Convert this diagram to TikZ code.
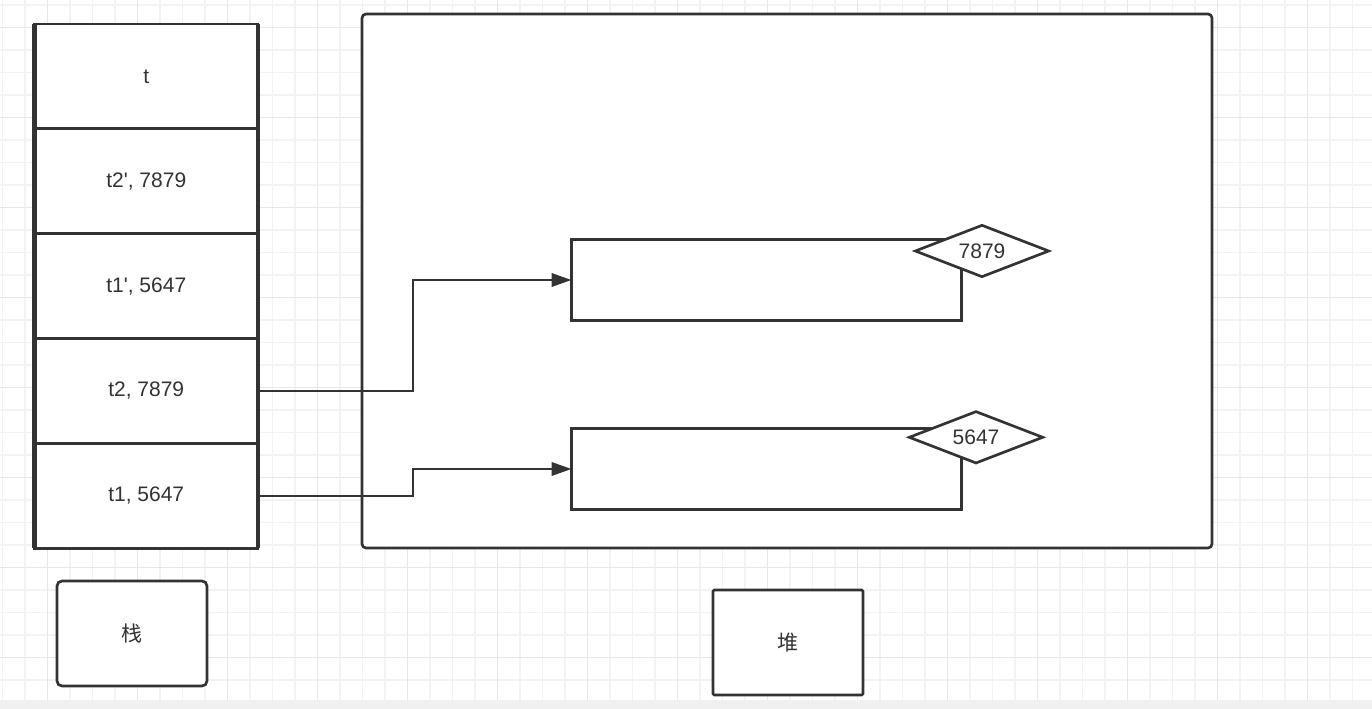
\documentclass[tikz,border=0pt]{standalone}
\usepackage{fontspec}
\setmainfont{Liberation Sans}
\newfontfamily\cjk{Noto Sans CJK SC}
\usetikzlibrary{shapes.geometric,arrows.meta}
\definecolor{ink}{HTML}{333333}
\definecolor{gridminor}{HTML}{F3F3F3}
\definecolor{gridmajor}{HTML}{E8E8E8}
\definecolor{band}{HTML}{F0F0F0}
\begin{document}
\begin{tikzpicture}[x=0.75pt,y=-0.75pt,
  every node/.style={font=\fontsize{15.75pt}{18pt}\selectfont, text=ink},
  base/.style={draw=ink, line width=2pt, fill=white, inner sep=0pt, outer sep=0pt},
  cell/.style={base, rectangle, minimum width=167.6pt, minimum height=78.64pt},
  objbox/.style={base, rectangle, minimum width=292.5pt, minimum height=60.75pt},
  tag/.style={base, diamond, aspect=3, minimum width=100pt, minimum height=38.5pt},
  labelbox/.style={base, rectangle, minimum width=112.5pt, minimum height=78.75pt},
  link/.style={draw=ink, line width=2pt, -{Triangle[length=15pt,width=10pt]}},
  gridfine/.style={draw=gridminor, line width=1pt},
  gridbold/.style={draw=gridmajor, line width=1.2pt}
]
\useasboundingbox (0,0) rectangle (1372,709);
\fill[white] (0,0) rectangle (1372,709);
% grid
\foreach \x in {2.5,25,...,1372} \draw[gridfine] (\x,0) -- (\x,700);
\foreach \y in {5,27.5,...,700} \draw[gridfine] (0,\y) -- (1372,\y);
\foreach \x in {47.5,137.5,...,1372} \draw[gridbold] (\x,0) -- (\x,700);
\foreach \y in {27.5,117.5,...,700} \draw[gridbold] (0,\y) -- (1372,\y);
\fill[band] (0,700) rectangle (1372,709);

% heap container
\node[base, rounded corners=3pt, minimum width=637.5pt, minimum height=400.5pt] (heap) at (787,281) {};

% stack cells
\node[cell] (s1) at (146.25,76.4) {t};
\node[cell] (s2) at (146.25,181.3) {t2\textquotesingle, 7879};
\node[cell] (s3) at (146.25,286.2) {t1\textquotesingle, 5647};
\node[cell] (s4) at (146.25,391.0) {t2, 7879};
\node[cell] (s5) at (146.25,495.9) {t1, 5647};
\draw[ink, line width=3.4pt] (s1.north west) -- (s5.south west);
\draw[ink, line width=3.6pt] (s1.north east) -- (s5.south east);
\draw[ink, line width=2.6pt] (s5.north west) -- (s5.north east);

% heap objects
\node[objbox] (b1) at (766.5,280) {};
\node[tag] (d1) at (982,251) {7879};
\node[objbox] (b2) at (766.5,469) {};
\node[tag] (d2) at (976,437.3) {5647};

% references
\draw[link] (s4.east) -- ++(155,0) |- (b1.west);
\draw[link] (s5.east) -- ++(155,0) |- (b2.west);

% labels
\node[labelbox, rounded corners=3.75pt] (stacklbl) at (132,633.5) {\cjk 栈};
\node[labelbox, rounded corners=1pt] (heaplbl) at (788,642.5) {\cjk 堆};
\end{tikzpicture}
\end{document}
